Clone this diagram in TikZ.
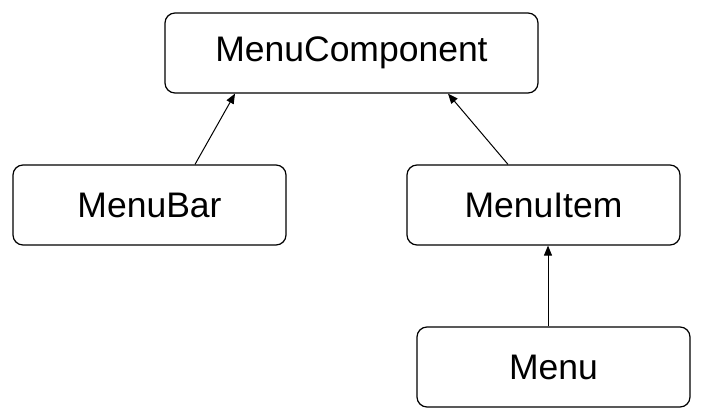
\documentclass[tikz,border=0pt]{standalone}
\usepackage{fontspec}
\setmainfont{Liberation Sans}
\usetikzlibrary{arrows.meta}
\begin{document}
\begin{tikzpicture}[x=1pt,y=-1pt,
  cls/.style={draw=black,line width=1.2pt,rounded corners=10pt,minimum width=273pt,minimum height=80pt,font=\fontsize{35.5}{42}\selectfont,inner sep=0pt},
  inh/.style={line width=1pt,-{Triangle[length=10pt,width=8pt]}}]
\useasboundingbox (0,0) rectangle (702,420);
\node[cls,minimum width=373pt] (mc) at (351.5,53) {MenuComponent};
\node[cls] (mb) at (149.5,205) {MenuBar};
\node[cls] (mi) at (543.5,205) {MenuItem};
\node[cls] (m) at (553.5,367) {Menu};
\draw[inh] (mb.north -| 195,0) -- (mc.south -| 235,0);
\draw[inh] (mi.north -| 508,0) -- (mc.south -| 448,0);
\draw[inh] (m.north -| 548,0) -- (mi.south -| 548,0);
\end{tikzpicture}
\end{document}
